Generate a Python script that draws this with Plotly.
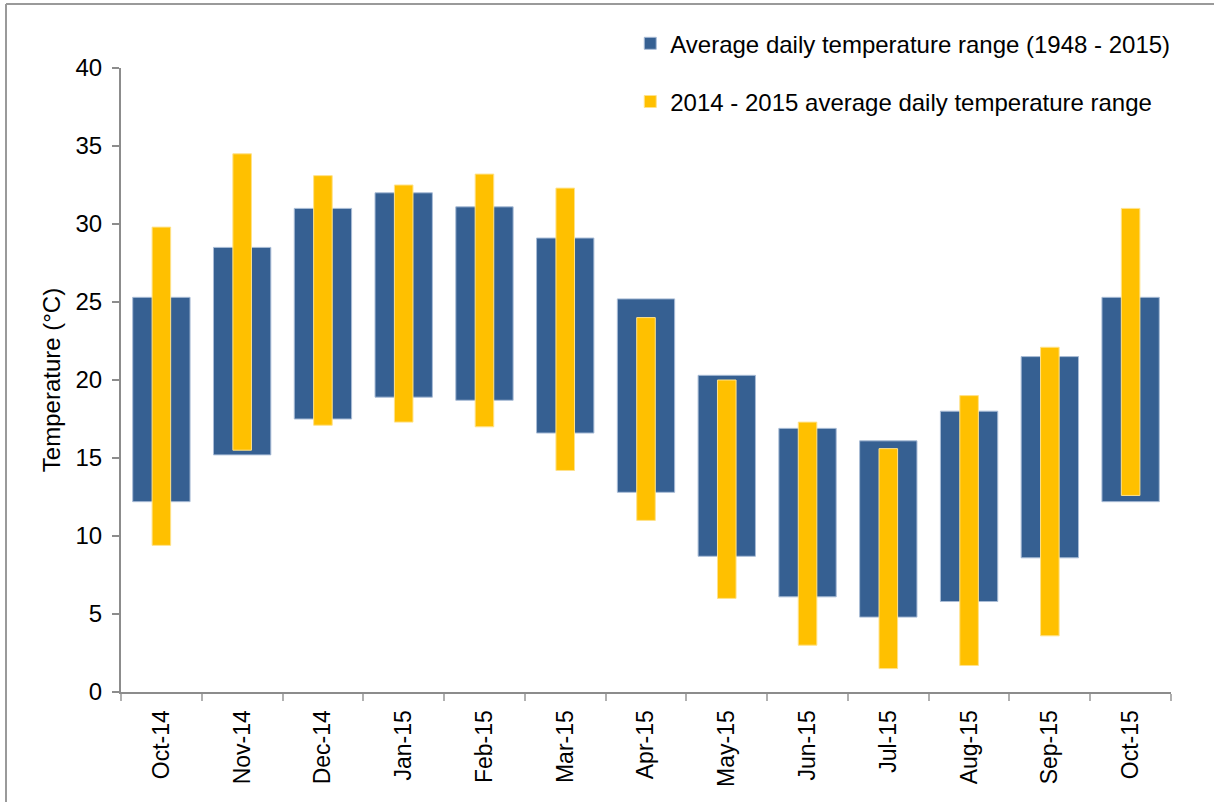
import plotly.graph_objects as go

months = ["Oct-14", "Nov-14", "Dec-14", "Jan-15", "Feb-15", "Mar-15", "Apr-15",
          "May-15", "Jun-15", "Jul-15", "Aug-15", "Sep-15", "Oct-15"]

# long-term average daily range (1948 - 2015)
avg_low = [12.2, 15.2, 17.5, 18.9, 18.7, 16.6, 12.8, 8.7, 6.1, 4.8, 5.8, 8.6, 12.2]
avg_high = [25.3, 28.5, 31.0, 32.0, 31.1, 29.1, 25.2, 20.3, 16.9, 16.1, 18.0, 21.5, 25.3]

# 2014 - 2015 average daily range
cur_low = [9.4, 15.5, 17.1, 17.3, 17.0, 14.2, 11.0, 6.0, 3.0, 1.5, 1.7, 3.6, 12.6]
cur_high = [29.8, 34.5, 33.1, 32.5, 33.2, 32.3, 24.0, 20.0, 17.3, 15.6, 19.0, 22.1, 31.0]

fig = go.Figure()

fig.add_trace(go.Bar(
    x=months,
    y=[h - l for h, l in zip(avg_high, avg_low)],
    base=avg_low,
    width=0.71,
    name="Average daily temperature range (1948 - 2015)",
    legendgroup="a",
    marker=dict(color="#366092", line=dict(color="#a9bcd6", width=1)),
))

fig.add_trace(go.Bar(
    x=months,
    y=[h - l for h, l in zip(cur_high, cur_low)],
    base=cur_low,
    width=0.23,
    name="2014 - 2015 average daily temperature range",
    legendgroup="b",
    marker=dict(color="#ffc000", line=dict(color="#ffe28a", width=1)),
))

fig.update_layout(
    width=1214, height=802,
    barmode="overlay",
    paper_bgcolor="white",
    plot_bgcolor="white",
    font=dict(family="Liberation Sans, Arial, sans-serif", color="#000000", size=24),
    margin=dict(l=121, r=43, t=68, b=110),
    showlegend=True,
    legend=dict(
        x=0.485, y=1.075, xanchor="left", yanchor="top",
        font=dict(size=24),
        tracegroupgap=24,
        itemwidth=30,
        bgcolor="rgba(0,0,0,0)",
    ),
    yaxis=dict(
        range=[0, 40],
        dtick=5,
        showgrid=False,
        showline=True,
        linecolor="#8c8c8c",
        linewidth=2,
        ticks="outside",
        ticklen=7,
        tickwidth=2,
        tickcolor="#8c8c8c",
        tickfont=dict(size=24),
        ticklabelstandoff=5,
        title=dict(text="Temperature (°C)", font=dict(size=24), standoff=8),
        zeroline=False,
    ),
    xaxis=dict(
        showgrid=False,
        showline=True,
        linecolor="#8c8c8c",
        linewidth=2,
        ticks="outside",
        tickson="boundaries",
        ticklen=7,
        tickwidth=2,
        tickcolor="#b0b0b0",
        tickangle=-90,
        tickfont=dict(size=23),
        ticklabelstandoff=7,
    ),
    shapes=[
        dict(type="line", xref="paper", yref="paper",
             x0=(6 - 121) / 1050, x1=1.2, y0=(692 - 4) / 624, y1=(692 - 4) / 624,
             line=dict(color="#9a9a9a", width=2)),
        dict(type="line", xref="paper", yref="paper",
             x0=(6 - 121) / 1050, x1=(6 - 121) / 1050, y0=-0.3, y1=(692 - 4) / 624,
             line=dict(color="#9a9a9a", width=2)),
    ],
)

fig.write_html("out.html", config={"displayModeBar": False},
               post_script="document.body.style.margin='0px';")
